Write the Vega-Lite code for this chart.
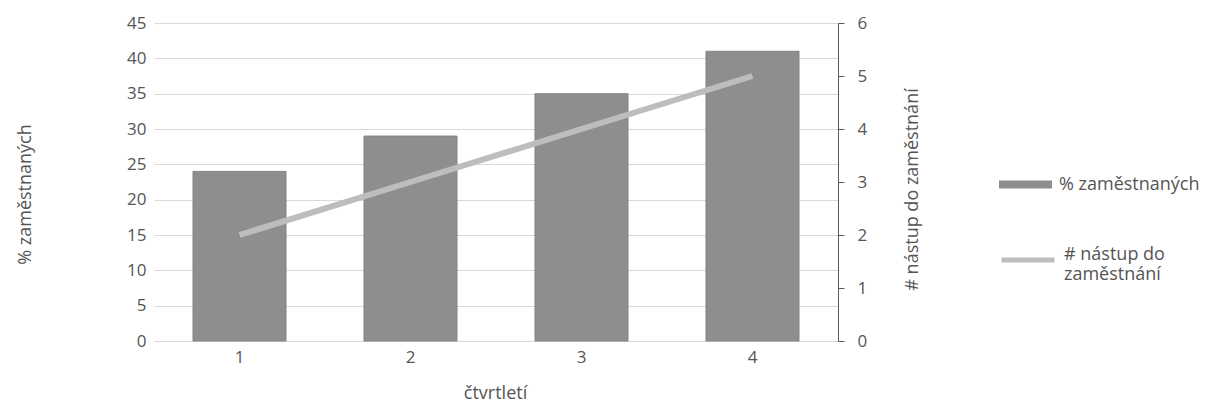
{
  "$schema": "https://vega.github.io/schema/vega-lite/v6.json",
  "width": 684,
  "height": 318,
  "autosize": {"type": "none"},
  "padding": {"left": 154, "top": 23, "right": 373, "bottom": 66},
  "background": "white",
  "config": {
    "view": {"stroke": null},
    "font": "Open Sans",
    "axis": {
      "labelFont": "Open Sans",
      "titleFont": "Open Sans",
      "labelFontSize": 17,
      "titleFontSize": 18,
      "labelColor": "#555555",
      "titleColor": "#555555",
      "titleFontWeight": "normal"
    },
    "legend": {
      "labelFont": "Open Sans",
      "labelFontSize": 18,
      "labelColor": "#555555"
    }
  },
  "data": {
    "values": [
      {"ctvrtleti": 1, "zamestnanych": 24, "nastup": 2},
      {"ctvrtleti": 2, "zamestnanych": 29, "nastup": 3},
      {"ctvrtleti": 3, "zamestnanych": 35, "nastup": 4},
      {"ctvrtleti": 4, "zamestnanych": 41, "nastup": 5}
    ]
  },
  "encoding": {
    "x": {
      "field": "ctvrtleti",
      "type": "ordinal",
      "scale": {"paddingInner": 0.456, "paddingOuter": 0.228},
      "axis": {
        "title": "čtvrtletí",
        "labelAngle": 0,
        "ticks": false,
        "tickSize": 0,
        "labelPadding": 8,
        "domainColor": "#d9d9d9",
        "domainWidth": 1,
        "titleX": 341,
        "titleY": 57,
        "titleBaseline": "alphabetic",
        "titleAlign": "center"
      }
    }
  },
  "layer": [
    {
      "mark": {"type": "bar", "stroke": "#848484", "strokeWidth": 1},
      "encoding": {
        "y": {
          "field": "zamestnanych",
          "type": "quantitative",
          "scale": {"domain": [0, 45], "nice": false},
          "axis": {
            "title": "% zaměstnaných",
            "values": [0, 5, 10, 15, 20, 25, 30, 35, 40, 45],
            "domain": false,
            "ticks": false,
            "labelPadding": 8,
            "grid": true,
            "gridColor": "#d9d9d9",
            "gridWidth": 1,
            "titleAngle": 270,
            "titleX": -129,
            "titleY": 171,
            "titleAlign": "center",
            "titleBaseline": "middle"
          }
        },
        "fill": {
          "datum": "% zaměstnaných",
          "scale": {"domain": ["% zaměstnaných"], "range": ["#8e8e8e"]},
          "legend": {
            "title": null,
            "orient": "none",
            "legendX": 845,
            "legendY": 135,
            "padding": 0,
            "symbolType": "M-1,-0.15H1V0.15H-1Z",
            "symbolSize": 2809,
            "symbolStrokeWidth": 0,
            "labelOffset": 7,
            "labelLimit": 300
          }
        }
      }
    },
    {
      "mark": {"type": "line", "strokeWidth": 6, "strokeCap": "butt"},
      "encoding": {
        "y": {
          "field": "nastup",
          "type": "quantitative",
          "scale": {"domain": [0, 6], "nice": false},
          "axis": {
            "orient": "right",
            "title": "# nástup do zaměstnání",
            "values": [0, 1, 2, 3, 4, 5, 6],
            "grid": false,
            "domain": true,
            "domainColor": "#595959",
            "ticks": true,
            "tickColor": "#595959",
            "tickSize": 6,
            "labelPadding": 13,
            "titleAngle": 270,
            "titleX": 74,
            "titleY": 166,
            "titleAlign": "center",
            "titleBaseline": "middle"
          }
        },
        "stroke": {
          "datum": "# nástup do zaměstnání",
          "scale": {"domain": ["# nástup do zaměstnání"], "range": ["#bdbdbd"]},
          "legend": {
            "title": null,
            "orient": "none",
            "legendX": 845,
            "legendY": 208,
            "padding": 0,
            "symbolType": "stroke",
            "symbolSize": 2809,
            "symbolStrokeWidth": 5,
            "labelOffset": 7,
            "labelLimit": 300,
            "labelBaseline": "alphabetic",
            "labelExpr": "['# nástup do', 'zaměstnání']"
          }
        }
      }
    }
  ],
  "resolve": {"scale": {"y": "independent"}}
}
